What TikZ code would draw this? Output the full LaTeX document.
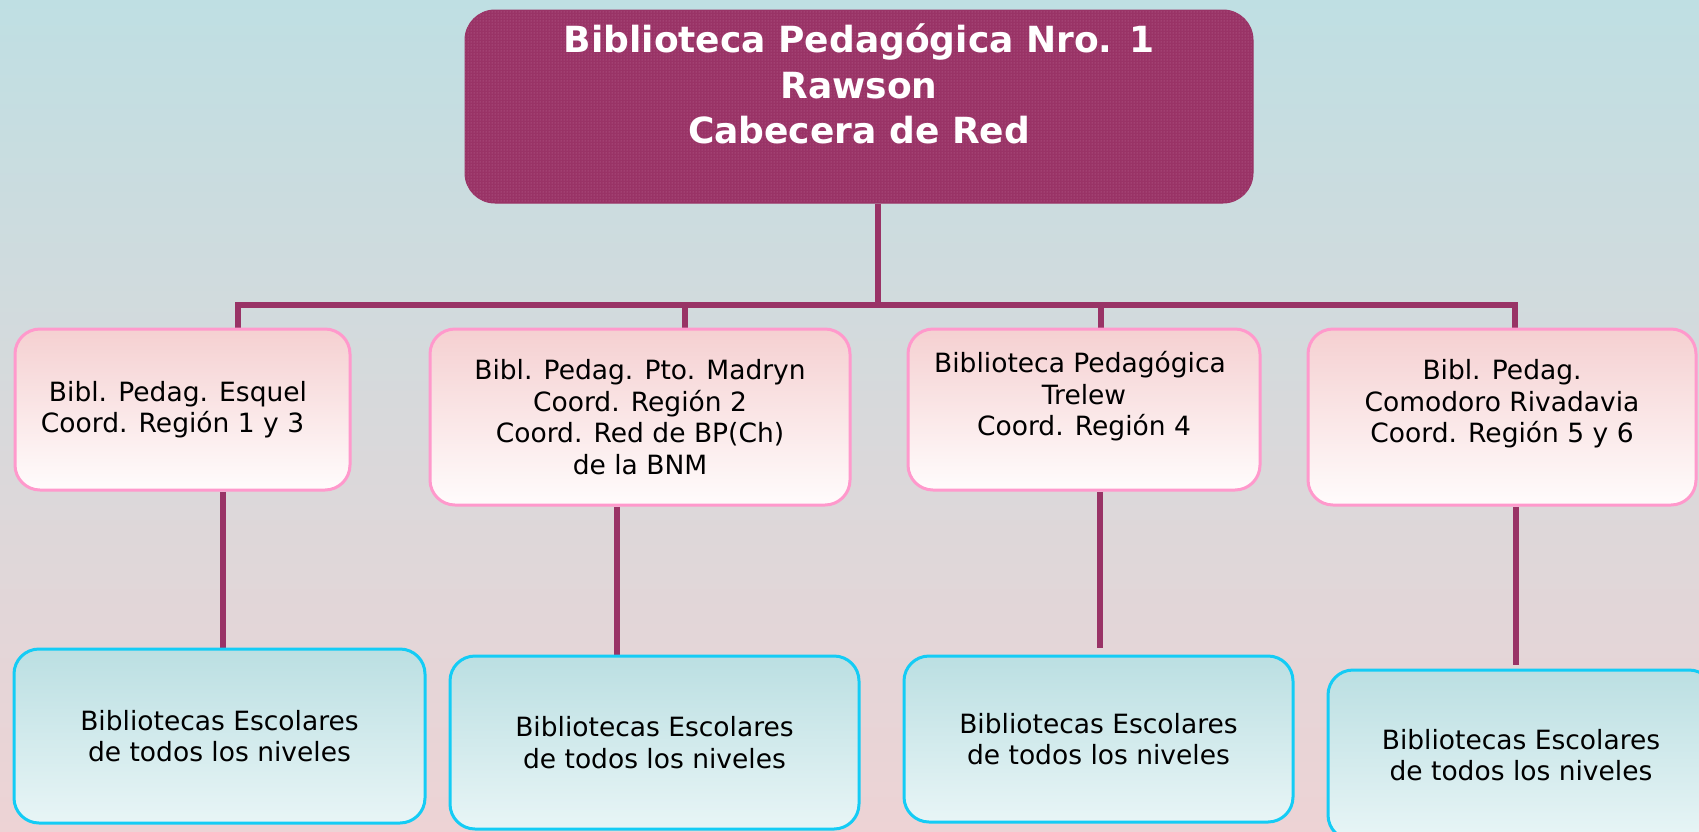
\documentclass[tikz,border=0pt]{standalone}
\usepackage{fontspec}
\setmainfont{DejaVu Sans}
\usetikzlibrary{patterns,backgrounds}
\definecolor{bgtop}{HTML}{BFDFE3}
\definecolor{bgmid}{HTML}{D8D9DB}
\definecolor{bgbot}{HTML}{EDD3D5}
\definecolor{plum}{HTML}{993366}
\definecolor{plumdot}{HTML}{C0709A}
\definecolor{pinkline}{HTML}{FF99CC}
\definecolor{pinktop}{HTML}{F5D0D1}
\definecolor{pinkbot}{HTML}{FFFCFC}
\definecolor{cyanline}{HTML}{14CCF5}
\definecolor{cyantop}{HTML}{BBDFE2}
\definecolor{cyanbot}{HTML}{E8F5F6}
\begin{document}
\begin{tikzpicture}[x=1pt,y=-1pt,
  headbox/.style={draw=plum, line width=1, fill=plum, rounded corners=30,
    text=white, font=\fontsize{36}{45.5}\selectfont\bfseries, align=center, inner sep=0,
    postaction={pattern=dots, pattern color=plumdot}},
  coordbox/.style={draw=pinkline, line width=3, rounded corners=25,
    top color=pinktop, bottom color=pinkbot, text=black,
    font=\fontsize{26.5}{31.5}\selectfont, align=center, inner sep=0},
  schoolbox/.style={draw=cyanline, line width=3, rounded corners=25,
    top color=cyantop, bottom color=cyanbot, text=black,
    font=\fontsize{26.5}{31.5}\selectfont, align=center, inner sep=0},
  conn/.style={draw=plum, line width=6.5, line join=miter}
]
\useasboundingbox (0,0) rectangle (1699,831);

\node[headbox, minimum width=788, minimum height=193] (top) at (859,106.5)
  {Biblioteca Pedagógica Nro. 1\\Rawson\\Cabecera de Red\\\mbox{}};

\node[coordbox, minimum width=335, minimum height=161] (c1) at (182.5,409.5)
  {Bibl. Pedag. Esquel\hspace*{9pt}\\Coord. Región 1 y 3\hspace*{20pt}};
\node[coordbox, minimum width=420, minimum height=176] (c2) at (640,417)
  {Bibl. Pedag. Pto. Madryn\\Coord. Región 2\\Coord. Red de BP(Ch)\\de la BNM};
\node[coordbox, minimum width=352, minimum height=161] (c3) at (1084,409.5)
  {Biblioteca Pedagógica\hspace*{8pt}\\Trelew\\Coord. Región 4\hspace*{8pt}\\\mbox{}};
\node[coordbox, minimum width=388, minimum height=176] (c4) at (1502,417)
  {Bibl. Pedag.\\Comodoro Rivadavia\\Coord. Región 5 y 6\\\mbox{}};

\node[schoolbox, minimum width=411, minimum height=174] (g1) at (219.5,736)
  {Bibliotecas Escolares\\de todos los niveles};
\node[schoolbox, minimum width=409, minimum height=173] (g2) at (654.5,742.5)
  {Bibliotecas Escolares\\de todos los niveles};
\node[schoolbox, minimum width=389, minimum height=166] (g3) at (1098.5,739)
  {Bibliotecas Escolares\\de todos los niveles};
\node[schoolbox, minimum width=386, minimum height=170] (g4) at (1521,755)
  {Bibliotecas Escolares\\de todos los niveles};

\coordinate (j0) at (878,305);
\coordinate (j1) at (238,305);
\coordinate (j2) at (685,305);
\coordinate (j3) at (1101,305);
\coordinate (j4) at (1515,305);
\coordinate (v1) at (223,0);
\coordinate (v2) at (617,0);
\coordinate (v3) at (1100,0);
\coordinate (v4) at (1516,0);

\begin{scope}[on background layer]
  \fill[top color=bgtop, bottom color=bgbot, middle color=bgmid] (0,0) rectangle (1699,831);
  \draw[conn] (top.south -| j0) -- (j0);
  \draw[conn] (j1 |- c1.north) -- (j1) -- (j4) -- (j4 |- c4.north);
  \draw[conn] (j2) -- (j2 |- c2.north);
  \draw[conn] (j3) -- (j3 |- c3.north);
  \draw[conn] (c1.south -| v1) -- (g1.north -| v1);
  \draw[conn] (c2.south -| v2) -- (g2.north -| v2);
  \draw[conn, shorten >=7] (c3.south -| v3) -- (g3.north -| v3);
  \draw[conn, shorten >=4] (c4.south -| v4) -- (g4.north -| v4);
\end{scope}
\end{tikzpicture}
\end{document}
